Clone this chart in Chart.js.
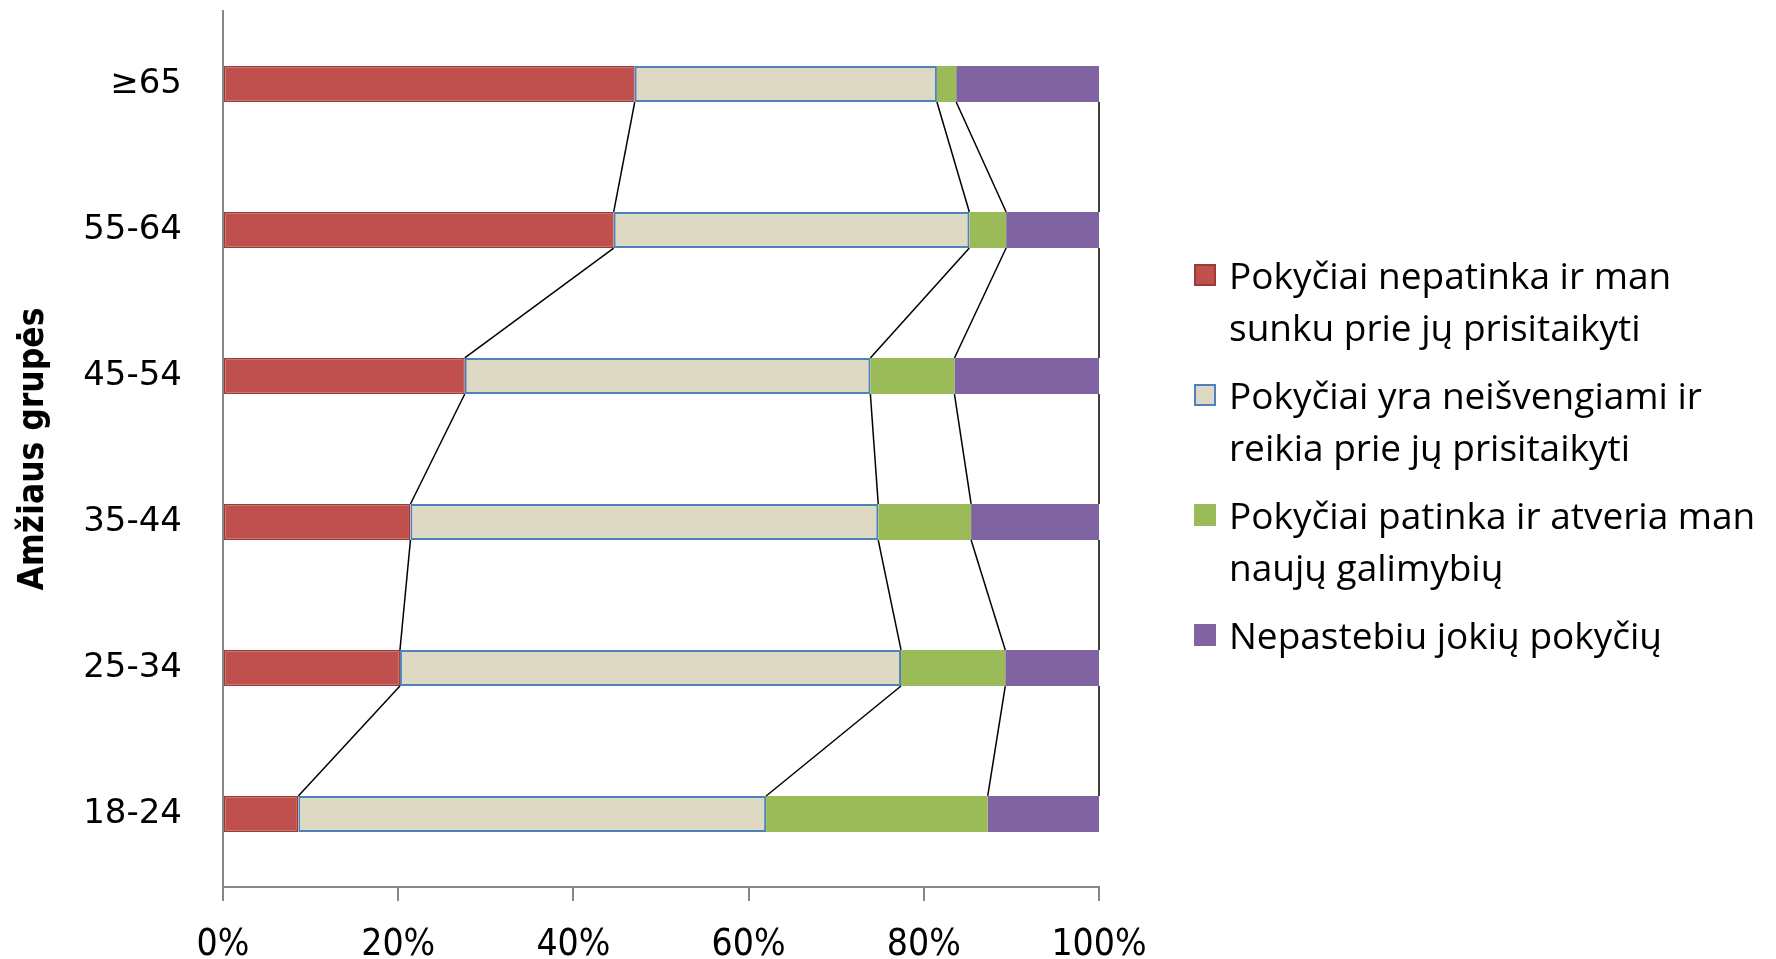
<!DOCTYPE html>
<html>
<head>
<meta charset="utf-8">
<script src="https://cdn.jsdelivr.net/npm/chart.js@4/dist/chart.umd.min.js"></script>
<style>
  html, body { margin: 0; padding: 0; background: #fff; }
  #wrap { position: relative; width: 1776px; height: 959px; }
  #legend { position: absolute; left: 1194px; top: 249px; font-family: "Open Sans", sans-serif; font-size: 37px; line-height: 52px; color: #000; }
  .item { position: relative; padding-left: 35px; margin-bottom: 16px; white-space: nowrap; }
  .sw { position: absolute; left: 0; top: 15px; width: 22px; height: 22px; box-sizing: border-box; }
</style>
</head>
<body>
<div id="wrap">
  <canvas id="c" width="1776" height="959"></canvas>
  <div id="legend"></div>
</div>
<script>
const categories = ['≥65', '55-64', '45-54', '35-44', '25-34', '18-24'];
const seriesNames = [
  ['Pokyčiai nepatinka ir man', 'sunku prie jų prisitaikyti'],
  ['Pokyčiai yra neišvengiami ir', 'reikia prie jų prisitaikyti'],
  ['Pokyčiai patinka ir atveria man', 'naujų galimybių'],
  ['Nepastebiu jokių pokyčių']
];
const dislike    = [47.0, 44.6, 27.6, 21.4, 20.2, 8.6];
const inevitable = [34.5, 40.6, 46.3, 53.4, 57.2, 53.4];
const like       = [2.2, 4.2, 9.6, 10.6, 11.9, 25.3];
const noChange   = [16.3, 10.6, 16.5, 14.6, 10.7, 12.7];
const xTicks = [0, 20, 40, 60, 80, 100];
const axisTitle = 'Amžiaus grupės';

const fills = ['#C0504D', '#DDD9C3', '#9BBB59', '#8064A2'];
const borders = ['#9A3B38', '#4F81BD', '#9BBB59', '#8064A2'];
const borderWidths = [1.5, 2, 0, 0];

const seriesLines = {
  id: 'seriesLines',
  afterDatasetsDraw(chart) {
    const ctx = chart.ctx;
    ctx.save();
    ctx.strokeStyle = '#000';
    ctx.lineWidth = 1.5;
    chart.data.datasets.forEach((ds, d) => {
      const meta = chart.getDatasetMeta(d);
      for (let i = 0; i < meta.data.length - 1; i++) {
        const a = meta.data[i].getProps(['x', 'y', 'height'], true);
        const b = meta.data[i + 1].getProps(['x', 'y', 'height'], true);
        ctx.beginPath();
        ctx.moveTo(a.x, a.y + a.height / 2);
        ctx.lineTo(b.x, b.y - b.height / 2);
        ctx.stroke();
      }
    });
    ctx.restore();
  }
};

const values = [dislike, inevitable, like, noChange];
const chart = new Chart(document.getElementById('c'), {
  type: 'bar',
  data: {
    labels: categories,
    datasets: values.map((v, i) => ({
      label: seriesNames[i].join(' '),
      data: v,
      backgroundColor: fills[i],
      borderColor: borders[i],
      borderWidth: borderWidths[i],
      borderSkipped: false,
      barPercentage: 1,
      categoryPercentage: 0.247
    }))
  },
  options: {
    indexAxis: 'y',
    responsive: false,
    animation: false,
    events: [],
    layout: { padding: { top: 11, right: 677, bottom: 0, left: 0 } },
    plugins: { legend: { display: false }, tooltip: { enabled: false } },
    scales: {
      x: {
        stacked: true,
        min: 0, max: 100,
        afterBuildTicks(scale) { scale.ticks = xTicks.map(v => ({ value: v })); },
        afterFit(scale) { scale.height = 72; scale.paddingLeft = 0; scale.paddingRight = 0; },
        grid: { drawOnChartArea: false, drawTicks: true, tickLength: 14, color: '#868686', lineWidth: 2 },
        border: { color: '#868686', width: 2 },
        ticks: {
          color: '#000', padding: 22,
          font: { family: '"DejaVu Sans Condensed", "DejaVu Sans", sans-serif', size: 37 },
          callback: v => v + '%', maxRotation: 0
        }
      },
      y: {
        stacked: true,
        afterFit(scale) { scale.width = 223; scale.paddingTop = 0; scale.paddingBottom = 0; },
        grid: { display: false, drawTicks: false },
        border: { color: '#868686', width: 2 },
        ticks: {
          color: '#000', padding: 41,
          font: { family: '"DejaVu Sans", sans-serif', size: 34 }
        },
        title: {
          display: true, text: axisTitle, color: '#000',
          padding: { top: 16, bottom: 0 },
          font: { family: '"DejaVu Sans Condensed", "DejaVu Sans", sans-serif', size: 35, weight: 'bold', lineHeight: 1 }
        }
      }
    }
  },
  plugins: [seriesLines]
});

const legend = document.getElementById('legend');
seriesNames.forEach((lines, i) => {
  const item = document.createElement('div');
  item.className = 'item';
  const sw = document.createElement('span');
  sw.className = 'sw';
  sw.style.background = fills[i];
  sw.style.border = (i < 2 ? '2px solid ' + borders[i] : 'none');
  item.appendChild(sw);
  lines.forEach(t => { const l = document.createElement('div'); l.textContent = t; item.appendChild(l); });
  legend.appendChild(item);
});
</script>
</body>
</html>
